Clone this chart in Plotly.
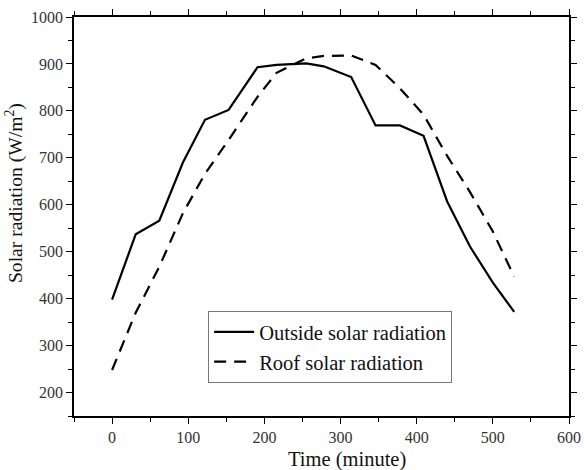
import plotly.graph_objects as go

# Data
time_min = [0, 31, 62, 93, 122, 153, 191, 216, 255, 278, 314, 346, 378, 409, 440, 470, 500, 528]
outside_rad = [398, 537, 566, 690, 781, 802, 893, 898, 901, 895, 872, 769, 769, 747, 607, 511, 434, 372]
roof_rad = [248, 370, 468, 582, 666, 738, 830, 881, 912, 917, 918, 898, 848, 792, 704, 627, 543, 447]

x_ticks = [0, 100, 200, 300, 400, 500, 600]
y_ticks = [200, 300, 400, 500, 600, 700, 800, 900, 1000]

x_title = "Time (minute)"
y_title = "Solar radiation (W/m<sup>2</sup>)"

FONT = "Liberation Serif"

fig = go.Figure()
fig.add_trace(go.Scatter(
    x=time_min, y=outside_rad, mode="lines", name="Outside solar radiation",
    line=dict(color="black", width=2.2)))
fig.add_trace(go.Scatter(
    x=time_min, y=roof_rad, mode="lines", name="Roof solar radiation",
    line=dict(color="black", width=2.2, dash="12px,8px")))

axis_common = dict(showline=True, linecolor="black", linewidth=1.5, mirror="ticks",
                   showgrid=False, zeroline=False, automargin=False)
minor_out = dict(ticks="outside", ticklen=4, dtick=50, tick0=0, tickcolor="black", tickwidth=1.2)

fig.update_layout(
    width=584, height=470,
    margin=dict(l=74, r=15, t=17, b=54),
    paper_bgcolor="white", plot_bgcolor="white",
    font=dict(family=FONT, size=16, color="#222"),
    showlegend=True,
    legend=dict(x=0.271, y=0.263, xanchor="left", yanchor="top",
                bgcolor="white", bordercolor="#777", borderwidth=1,
                font=dict(family=FONT, size=20.5, color="#111"),
                tracegroupgap=0, itemwidth=40),
    xaxis=dict(range=[-50, 600], tickvals=x_ticks, ticks="outside", ticklen=6,
               tickwidth=1.3, tickcolor="black", minor=minor_out,
               tickfont=dict(size=16, color="#333"), **axis_common),
    yaxis=dict(range=[150, 1000], tickvals=y_ticks, ticks="outside", ticklen=6,
               tickwidth=1.3, tickcolor="black", minor=minor_out,
               tickfont=dict(size=16, color="#333"), **axis_common),
    annotations=[
        dict(text=x_title, xref="paper", yref="paper", x=0.552, y=-0.11,
             xanchor="center", yanchor="middle", showarrow=False,
             font=dict(family=FONT, size=20.5, color="#111")),
        dict(text=y_title, xref="paper", yref="paper", x=-0.119, y=0.559,
             xanchor="center", yanchor="middle", showarrow=False, textangle=-90,
             font=dict(family=FONT, size=19.6, color="#111")),
    ],
)

fig.write_html("out.html", config={"displayModeBar": False},
               post_script="document.body.style.margin='0';document.body.style.overflow='hidden';")
